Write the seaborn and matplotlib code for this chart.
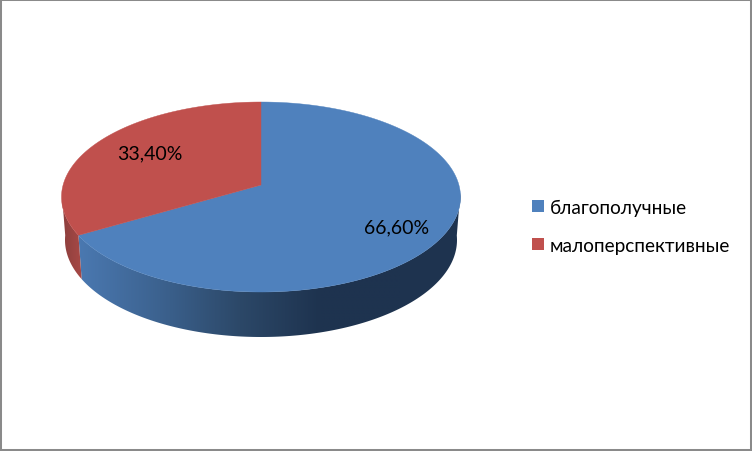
import numpy as np
import matplotlib
matplotlib.use('Agg')
import matplotlib.pyplot as plt
from matplotlib.patches import Patch, Polygon
import seaborn as sns

categories = ['благополучные', 'малоперспективные']
shares = [66.6, 33.4]
share_labels = ['66,60%', '33,40%']

sns.set_theme(style='white')
plt.rcParams['font.family'] = ['Lato', 'Open Sans', 'DejaVu Sans']

colors = ['#4F81BD', '#C0504D']
# side wall goes dark towards the right
side_maps = [
    sns.blend_palette(['#4A78B0', '#3C628F', '#2C4868', '#1E334F', '#1E334F'], as_cmap=True),
    sns.blend_palette(['#8C3F3D', '#A84946'], as_cmap=True),
]

# top face and lower rim of the disc, in pixels
cx, cy, rx, ry = 261.0, 198.0, 199.5, 95.0
low_cy, low_rx, low_ry = 241.0, 196.0, 97.0
tilt = 0.126  # wedge tip sits above the ellipse centre


def project(theta):
    # perspective of the unit circle, pulls the tip towards the back
    x, y = np.cos(theta), np.sin(theta)
    d = 1 + tilt * y
    return x * np.sqrt(1 - tilt ** 2) / d, (y + tilt) / d


fig = plt.figure(figsize=(7.52, 4.52), dpi=100)
ax = fig.add_axes([0, 0, 1, 1])

# slice angles go clockwise from 12 o'clock
edges = 90 - np.cumsum([0] + shares) * 3.6
ramp = np.linspace(0, 1, 256).reshape(1, -1)
spans = [(80, 400), (62, 82)]

for i in range(len(shares)):
    t = np.radians(np.linspace(edges[i], edges[i + 1], 300))
    px, py = project(t)

    # side wall as a gradient clipped to the visible front strip
    front = py < 0.05
    upper = np.c_[cx + rx * px[front], cy - ry * py[front]]
    lower = np.c_[cx + low_rx * px[front], low_cy - low_ry * py[front]]
    outline = np.r_[upper, lower[::-1]]
    x0, x1 = spans[i]
    img = ax.imshow(ramp, extent=(x0, x1, 345, 180), cmap=side_maps[i], aspect='auto', zorder=2)
    # colours past the ramp keep the last value
    if x0 > 62:
        ax.imshow(ramp[:, :1], extent=(40, x0, 345, 180), cmap=side_maps[i], vmin=0, vmax=1,
                  aspect='auto', zorder=2).set_clip_path(Polygon(outline, transform=ax.transData))
    ax.imshow(ramp[:, -1:], extent=(x1, 480, 345, 180), cmap=side_maps[i], vmin=0, vmax=1,
              aspect='auto', zorder=2).set_clip_path(Polygon(outline, transform=ax.transData))
    img.set_clip_path(Polygon(outline, transform=ax.transData))

for i in range(len(shares)):
    t = np.radians(np.linspace(edges[i], edges[i + 1], 300))
    px, py = project(t)
    tip_y = cy - ry * tilt
    ax.fill(np.r_[cx, cx + rx * px], np.r_[tip_y, cy - ry * py], color=colors[i], lw=0.3, zorder=3)

ax.set_xlim(0, 752)
ax.set_ylim(452, 0)
ax.set_aspect('auto')
ax.set_xticks([])
ax.set_yticks([])

ax.text(397, 228, share_labels[0], ha='center', va='center', fontsize=14, color='black', zorder=4)
ax.text(150, 154, share_labels[1], ha='center', va='center', fontsize=14, color='black', zorder=4)

handles = [Patch(facecolor=c, edgecolor='none') for c in colors]
ax.legend(handles, categories, loc='upper left', bbox_to_anchor=(526 / 752, 1 - 194 / 452),
          frameon=False, fontsize=13.7, labelcolor='black', handlelength=0.63, handleheight=0.63,
          handletextpad=0.3, labelspacing=1.1, borderpad=0.3, borderaxespad=0)

for s in ax.spines.values():
    s.set_visible(True)
    s.set_color('#8A8A8A')
    s.set_linewidth(2.9)

fig.savefig('out.png', dpi=100)
